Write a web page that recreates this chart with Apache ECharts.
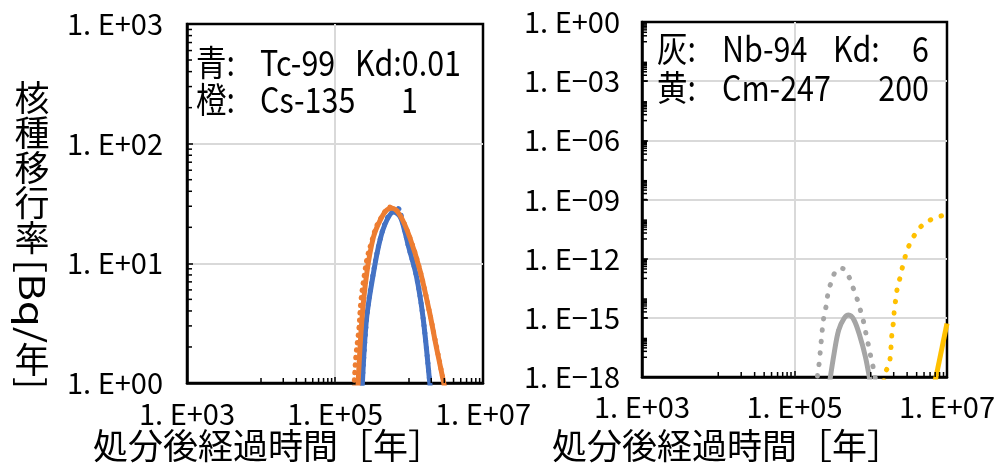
<!DOCTYPE html>
<html>
<head>
<meta charset="utf-8">
<script src="https://cdn.jsdelivr.net/npm/echarts@6.0.0/dist/echarts.min.js"></script>
<style>
html, body { margin: 0; padding: 0; background: #fff; }
#main { width: 998px; height: 468px; }
</style>
</head>
<body>
<div id="main"></div>
<script>
// 処分後経過時間 [年] と 核種移行率 [Bq/年]（両軸とも対数）
// 左: Tc-99 (Kd 0.01) 青, Cs-135 (Kd 1) 橙
const tcTime = [2.24e5, 2.63e5, 3.31e5, 4.07e5, 5.01e5, 6.17e5, 7.59e5, 8.91e5, 9.77e5, 1.26e6, 1.55e6, 1.91e6, 2.04e6];
const tcRate = [0.50, 3.16, 8.3, 15.8, 22.9, 26.9, 24.5, 17.8, 14.1, 7.8, 3.5, 1.0, 0.63];
const tcDotTime = [2.29e5, 2.69e5, 3.31e5, 4.07e5, 5.01e5, 6.17e5, 7.08e5, 8.32e5, 9.77e5, 1.26e6, 1.55e6, 1.91e6];
const tcDotRate = [0.79, 3.55, 8.5, 15.8, 23.4, 27.5, 28.8, 21.4, 14.1, 7.8, 3.5, 1.0];
const csTime = [2.00e5, 2.29e5, 2.69e5, 3.31e5, 4.07e5, 5.01e5, 5.89e5, 7.59e5, 1.02e6, 1.41e6, 1.91e6, 2.34e6, 2.95e6, 3.16e6];
const csRate = [0.71, 3.16, 8.3, 16.6, 22.9, 27.9, 28.8, 25.1, 16.6, 8.7, 3.8, 2.0, 1.0, 0.79];
const csDotTime = [1.78e5, 1.91e5, 2.09e5, 2.24e5, 2.51e5, 2.75e5, 3.09e5, 3.63e5, 4.27e5, 4.90e5, 5.50e5, 7.08e5, 1.02e6, 1.41e6, 1.91e6, 2.95e6];
const csDotRate = [0.79, 1.66, 2.75, 4.9, 8.3, 11.5, 14.8, 20.4, 24.5, 27.9, 29.5, 26.9, 16.6, 8.7, 3.8, 1.0];

// 右: Nb-94 (Kd 6) 灰, Cm-247 (Kd 200) 黄
const nbTime = [2.88e5, 3.31e5, 3.80e5, 4.47e5, 5.13e5, 6.03e5, 7.24e5, 8.51e5, 9.77e5];
const nbRate = [5.0e-19, 1.58e-17, 2.4e-16, 9.5e-16, 1.38e-15, 7.8e-16, 1.10e-16, 1.07e-17, 6.3e-19];
const nbDotTime = [2.00e5, 2.04e5, 2.14e5, 2.19e5, 2.27e5, 2.34e5, 2.45e5, 2.63e5, 2.75e5, 3.02e5, 3.39e5, 3.80e5,
  4.37e5, 5.25e5, 5.89e5, 6.61e5, 7.24e5, 7.94e5, 8.51e5, 9.12e5, 9.77e5, 1.05e6, 1.12e6, 1.15e6];
const nbDotRate = [1.12e-18, 2.1e-18, 7.9e-18, 2.8e-17, 1.02e-16, 3.9e-16, 1.35e-15, 4.9e-15, 1.74e-14, 6.3e-14, 2.04e-13, 3.2e-13,
  3.1e-13, 1.07e-13, 3.2e-14, 9.3e-15, 2.8e-15, 7.8e-16, 2.2e-16, 6.2e-17, 1.7e-17, 4.7e-18, 1.55e-18, 7.9e-19];
const cmTime = [6.92e6, 1.0e7];
const cmRate = [5.0e-19, 5.2e-16];
const cmDotTime = [1.48e6, 1.55e6, 1.74e6, 1.82e6, 1.86e6, 1.91e6, 2.00e6, 2.04e6, 2.14e6, 2.24e6, 2.45e6, 2.63e6,
  2.88e6, 3.24e6, 3.80e6, 4.68e6, 6.31e6, 8.32e6, 1.0e7];
const cmDotRate = [6.3e-19, 1.66e-18, 4.4e-18, 1.58e-17, 5.8e-17, 2.1e-16, 7.4e-16, 2.8e-15, 9.8e-15, 3.5e-14, 1.29e-13, 4.4e-13,
  1.58e-12, 5.5e-12, 1.70e-11, 4.7e-11, 1.0e-10, 1.45e-10, 1.66e-10];

// 目盛ラベル
const xTickLabels = ['1. E+03', '1. E+05', '1. E+07'];
const leftYTickLabels = ['1. E+00', '1. E+01', '1. E+02', '1. E+03'];
const rightYTickLabels = ['1. E\u221218', '1. E\u221215', '1. E\u221212', '1. E\u221209', '1. E\u221206', '1. E\u221203', '1. E+00'];

// 補助目盛のある桁 (Excel の対数軸の補助目盛)
const xMinorDecades = [4, 6];
const leftYMinorDecades = [0, 1, 2];
const rightYMinorDecades = [-17, -15, -13, -11, -9, -7, -5, -3, -1];

const FONT = '"Noto Sans CJK JP"';
const BLUE = '#4472C4', ORANGE = '#ED7D31', GRAY = '#A5A5A5', YELLOW = '#FFC000';

function toLog(times, rates) {
  return times.map((t, i) => [Math.log10(t), Math.log10(rates[i])]);
}

function lineSeries(idx, times, rates, color, dotted, gap) {
  return {
    type: 'line',
    xAxisIndex: idx,
    yAxisIndex: idx,
    data: toLog(times, rates),
    showSymbol: false,
    smooth: 0.35,
    clip: true,
    lineStyle: dotted
      ? { color: color, width: 5, type: [0.5, gap], cap: 'round' }
      : { color: color, width: 5 },
    z: 3
  };
}

function minorTicks(idx, pts, dir) {
  return {
    type: 'custom',
    xAxisIndex: idx,
    yAxisIndex: idx,
    silent: true,
    clip: false,
    z: 6,
    data: pts,
    renderItem: function (params, api) {
      const p = api.coord([api.value(0), api.value(1)]);
      return {
        type: 'line',
        shape: dir === 'x'
          ? { x1: p[0], y1: p[1], x2: p[0], y2: p[1] - 5 }
          : { x1: p[0], y1: p[1], x2: p[0] + 5, y2: p[1] },
        style: { stroke: '#000', lineWidth: 1.5 }
      };
    }
  };
}

function tickValues(decades, kFrom) {
  const out = [];
  decades.forEach(e => {
    for (let k = kFrom; k <= 9; k++) out.push(e + Math.log10(k));
  });
  return out;
}

function xAxisCfg(idx, margin) {
  return {
    type: 'value', gridIndex: idx, min: 3, max: 7, interval: 2,
    axisLine: { show: true, onZero: false, lineStyle: { color: '#000', width: 2.5 } },
    axisTick: { show: true, inside: true, length: 6, lineStyle: { color: '#000', width: 1.5 } },
    axisLabel: {
      margin: margin, color: '#000', fontFamily: FONT, fontSize: 29,
      formatter: v => xTickLabels[Math.round((v - 3) / 2)]
    },
    splitLine: { show: true, showMinLine: false, showMaxLine: false, lineStyle: { color: '#d9d9d9', width: 2 } }
  };
}

function yAxisCfg(idx, min, max, interval, labels, margin) {
  return {
    type: 'value', gridIndex: idx, min: min, max: max, interval: interval,
    axisLine: { show: true, onZero: false, lineStyle: { color: '#000', width: 2.5 } },
    axisTick: { show: true, inside: true, length: 6, lineStyle: { color: '#000', width: 1.5 } },
    axisLabel: {
      margin: margin, color: '#000', fontFamily: FONT, fontSize: 29,
      formatter: v => labels[Math.round((v - min) / interval)]
    },
    splitLine: { show: true, showMinLine: false, showMaxLine: false, lineStyle: { color: '#d9d9d9', width: 2 } }
  };
}

function txt(x, y, text, size, align, extra) {
  return Object.assign({
    type: 'text', x: x, y: y, z: 100,
    style: { text: text, font: size + 'px ' + FONT, fill: '#000', align: align || 'left', verticalAlign: 'middle' }
  }, extra || {});
}

// 凡例の文字は元図が細長い書体なので横だけ詰める
const NARROW = { scaleX: 0.87 };

const chart = echarts.init(document.getElementById('main'));

const option = {
  animation: false,
  backgroundColor: '#fff',
  grid: [
    { left: 187, top: 24, width: 296, height: 359, show: true, borderColor: '#000', borderWidth: 2.5, backgroundColor: '#fff' },
    { left: 642, top: 22, width: 307, height: 355, show: true, borderColor: '#000', borderWidth: 2.5, backgroundColor: '#fff' }
  ],
  xAxis: [xAxisCfg(0, 16), xAxisCfg(1, 15)],
  yAxis: [
    yAxisCfg(0, 0, 3, 1, leftYTickLabels, 24),
    yAxisCfg(1, -18, 0, 3, rightYTickLabels, 22)
  ],
  series: [
    lineSeries(0, tcDotTime, tcDotRate, BLUE, true, 7),
    lineSeries(0, csDotTime, csDotRate, ORANGE, true, 7),
    lineSeries(0, tcTime, tcRate, BLUE, false),
    lineSeries(0, csTime, csRate, ORANGE, false),
    lineSeries(1, nbDotTime, nbDotRate, GRAY, true, 11),
    lineSeries(1, cmDotTime, cmDotRate, YELLOW, true, 11),
    lineSeries(1, nbTime, nbRate, GRAY, false),
    lineSeries(1, cmTime, cmRate, YELLOW, false),
    minorTicks(0, tickValues(xMinorDecades, 1).map(v => [v, 0]), 'x'),
    minorTicks(1, tickValues(xMinorDecades, 1).map(v => [v, -18]), 'x'),
    minorTicks(0, tickValues(leftYMinorDecades, 2).map(v => [3, v]), 'y'),
    minorTicks(1, tickValues(rightYMinorDecades, 1).map(v => [3, v]), 'y')
  ],
  graphic: [
    // 凡例テキスト (左)
    txt(196, 63, '青:', 35, 'left', NARROW),
    txt(260, 63, 'Tc-99', 35, 'left', NARROW),
    txt(355, 63, 'Kd:0.01', 35, 'left', NARROW),
    txt(196, 100, '橙:', 35, 'left', NARROW),
    txt(260, 100, 'Cs-135', 35, 'left', NARROW),
    txt(418, 100, '1', 35, 'right', NARROW),
    // 凡例テキスト (右)
    txt(657, 49, '灰:', 35, 'left', NARROW),
    txt(722, 49, 'Nb-94', 35, 'left', NARROW),
    txt(833, 49, 'Kd:', 35, 'left', NARROW),
    txt(929, 49, '6', 35, 'right', NARROW),
    txt(657, 88, '黄:', 35, 'left', NARROW),
    txt(722, 88, 'Cm-247', 35, 'left', NARROW),
    txt(929, 88, '200', 35, 'right', NARROW),
    // 横軸タイトル
    txt(93, 446, '処分後経過時間［年］', 35),
    txt(552, 446, '処分後経過時間［年］', 35),
    // 縦軸タイトル (縦書き)
    {
      type: 'text', x: 32, y: 80, z: 100,
      style: { text: '核\n種\n移\n行\n率', font: '35px ' + FONT, lineHeight: 35, fill: '#000', align: 'center', verticalAlign: 'top' }
    },
    txt(32, 259, '[Bq/', 35, 'left', { rotation: -Math.PI / 2, scaleX: 1.2 }),
    txt(32, 360, '年', 35, 'center'),
    txt(32, 377, ']', 35, 'left', { rotation: -Math.PI / 2 })
  ]
};

chart.setOption(option);
</script>
</body>
</html>
